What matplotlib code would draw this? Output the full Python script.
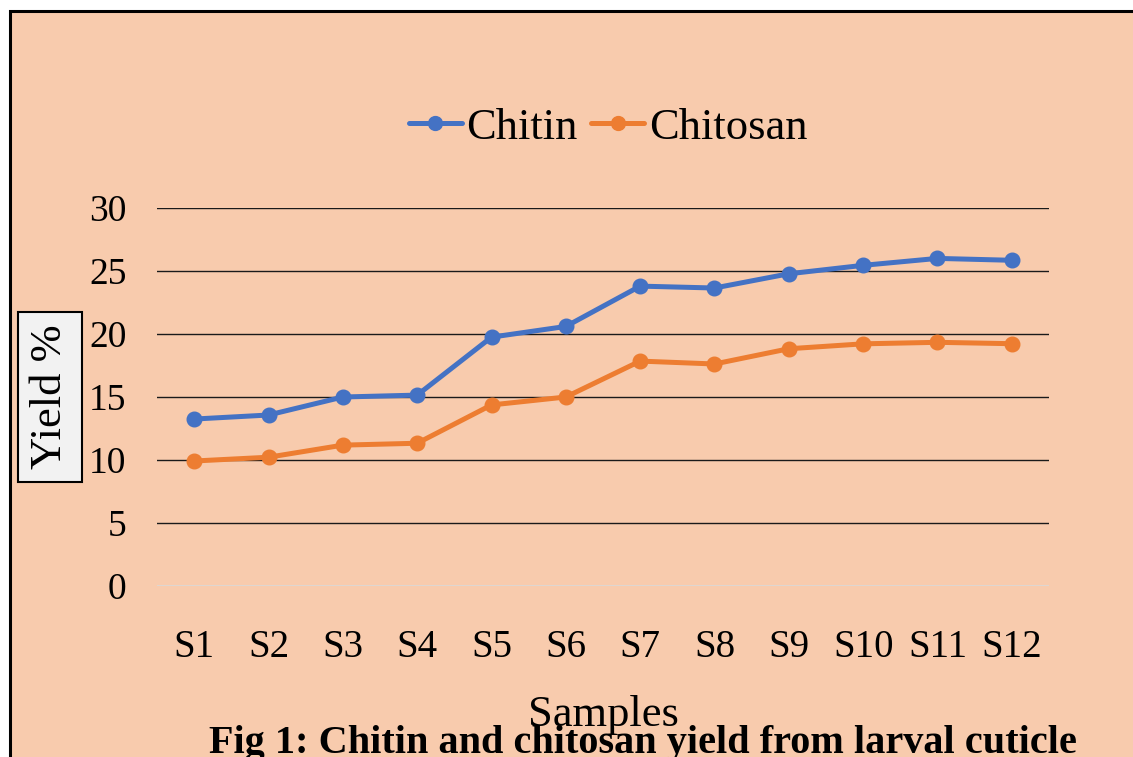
import matplotlib
matplotlib.use("Agg")
import matplotlib.pyplot as plt
from matplotlib.patches import Rectangle

samples = ["S1", "S2", "S3", "S4", "S5", "S6", "S7", "S8", "S9", "S10", "S11", "S12"]
chitin = [13.25, 13.57, 15.0, 15.15, 19.75, 20.6, 23.8, 23.65, 24.78, 25.45, 26.0, 25.85]
chitosan = [9.92, 10.22, 11.18, 11.33, 14.37, 15.0, 17.85, 17.62, 18.83, 19.22, 19.34, 19.23]
y_ticks = [0, 5, 10, 15, 20, 25, 30]

plt.rcParams["font.family"] = ["Liberation Serif", "DejaVu Serif"]

W, H = 1133, 757
bg = "#F8CBAD"
fig = plt.figure(figsize=(W / 100, H / 100), dpi=100, facecolor="white")

# chart frame (cut off at right and bottom)
fig.patches.append(
    Rectangle((9.5 / W, -0.05), 1.2, (H - 10.5) / H + 0.05, transform=fig.transFigure,
              facecolor=bg, edgecolor="black", linewidth=2.2, zorder=-5)
)

ax = fig.add_axes([157 / W, (H - 586) / H, (1049 - 157) / W, (586 - 208) / H])
ax.set_facecolor("none")
x = list(range(len(samples)))

ax.plot(x, chitin, color="#4472C4", lw=3.6, marker="o", ms=10.5, label="Chitin",
        solid_capstyle="round", zorder=3)
ax.plot(x, chitosan, color="#ED7D31", lw=3.6, marker="o", ms=10.5, label="Chitosan",
        solid_capstyle="round", zorder=3)

ax.set_xlim(-0.5, len(samples) - 0.5)
ax.set_ylim(0, 30)
ax.set_yticks(y_ticks)
for t in y_ticks:
    ax.axhline(t, color="#D9D9D9" if t == 0 else "#1a1a1a", lw=1.2 if t == 0 else 1.0, zorder=1)
ax.set_xticks(x)
ax.set_xticklabels(samples)
ax.tick_params(axis="both", length=0)
ax.tick_params(axis="y", pad=22, labelsize=27)
ax.tick_params(axis="x", pad=31, labelsize=28)
for s in ax.spines.values():
    s.set_visible(False)

leg = fig.legend(loc="center", bbox_to_anchor=(608 / W, (H - 128) / H), ncol=2,
                 frameon=False, fontsize=32, handlelength=1.2, handletextpad=0.1,
                 columnspacing=0.3, markerscale=0.95)

fig.text(50 / W, (H - 397) / H, "Yield %", rotation=90, ha="center", va="center",
         fontsize=32, bbox=dict(boxstyle="square,pad=0.28", facecolor="#F2F2F2",
                                edgecolor="black", linewidth=1.5))

fig.text(603 / W, (H - 715) / H, "Samples", ha="center", va="center", fontsize=32)
fig.text(643 / W, (H - 743) / H, "Fig 1: Chitin and chitosan yield from larval cuticle",
         ha="center", va="center", fontsize=29, fontweight="bold")

fig.savefig("out.png", dpi=100, facecolor="white")
